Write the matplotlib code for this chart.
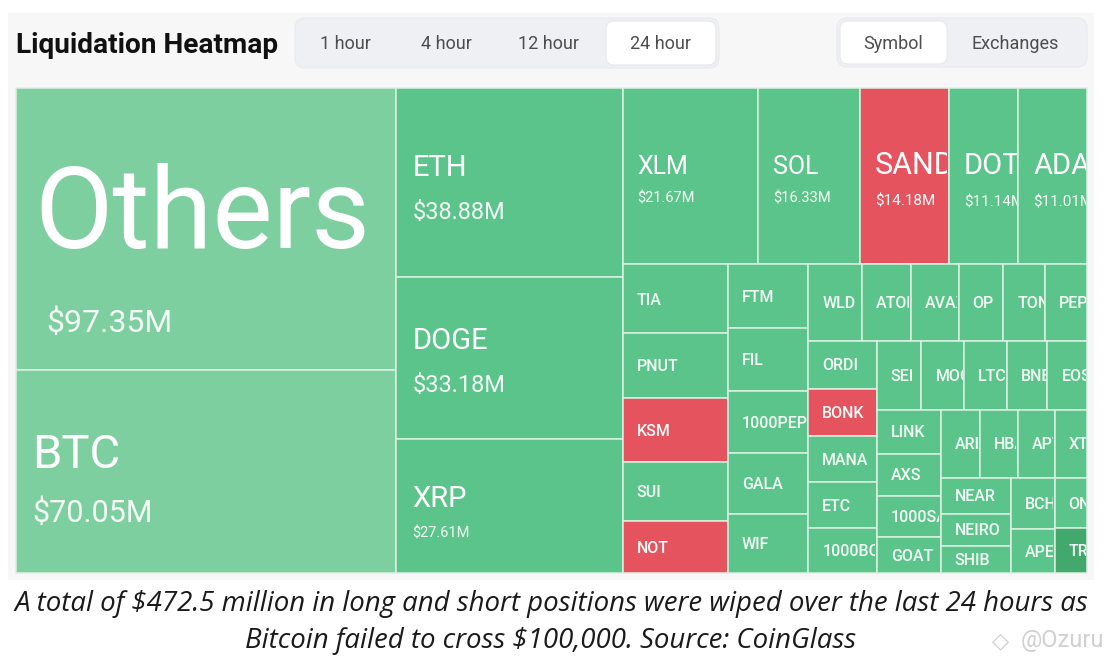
import matplotlib
matplotlib.use("Agg")
import matplotlib.pyplot as plt
from matplotlib.patches import Rectangle, FancyBboxPatch

# ---------------- data ----------------
SYMBOLS = ["Others", "BTC", "ETH", "DOGE", "XRP", "XLM", "SOL", "SAND", "DOT", "ADA",
           "TIA", "PNUT", "KSM", "SUI", "NOT",
           "FTM", "FIL", "1000PEPE", "GALA", "WIF",
           "WLD", "ATOM", "AVAX", "OP", "TON", "PEPE",
           "ORDI", "BONK", "MANA", "ETC", "1000BONK",
           "SEI", "MOG", "LTC", "BNB", "EOS",
           "LINK", "AXS", "1000SATS", "GOAT",
           "ARB", "HBAR", "APT", "XTZ",
           "NEAR", "NEIRO", "SHIB",
           "BCH", "APE", "ONDO", "TRX"]
LIQUIDATIONS_M = [97.35, 70.05, 38.88, 33.18, 27.61, 21.67, 16.33, 14.18, 11.14, 11.01,
                  6.59, 6.21, 6.11, 5.64, 4.97,
                  4.66, 4.58, 4.51, 4.44, 4.29,
                  3.73, 3.39, 3.32, 3.11, 2.90, 2.90,
                  2.97, 2.91, 2.91, 2.85, 2.78,
                  2.78, 2.66, 2.66, 2.54, 2.47,
                  2.56, 2.44, 2.39, 2.10,
                  2.41, 2.35, 2.29, 1.98,
                  2.29, 2.04, 1.72,
                  2.04, 1.76, 1.48, 1.32]
SHORT_HEAVY = ["SAND", "KSM", "NOT", "BONK"]      # red cells
AGGREGATE = ["Others", "BTC"]                      # lighter cells
DEEP = ["TRX"]                                     # darker cell
LABELLED_VALUES = ["Others", "BTC", "ETH", "DOGE", "XRP", "XLM", "SOL", "SAND", "DOT", "ADA"]

TITLE = "Liquidation Heatmap"
PERIODS = ["1 hour", "4 hour", "12 hour", "24 hour"]
PERIOD_SELECTED = "24 hour"
GROUPINGS = ["Symbol", "Exchanges"]
GROUPING_SELECTED = "Symbol"
CAPTION = ["A total of $472.5 million in long and short positions were wiped over the last 24 hours as",
           "Bitcoin failed to cross $100,000. Source: CoinGlass"]
WATERMARK = "@Ozuru"

# hierarchical slicing of the treemap ('h' = side by side, 'v' = stacked)
LAYOUT_TREE = ('h', [
    ('v', ["Others", "BTC"]),
    ('v', ["ETH", "DOGE", "XRP"]),
    ('v', [
        ('h', ["XLM", "SOL", "SAND", "DOT", "ADA"]),
        ('h', [
            ('v', ["TIA", "PNUT", "KSM", "SUI", "NOT"]),
            ('v', ["FTM", "FIL", "1000PEPE", "GALA", "WIF"]),
            ('v', [
                ('h', ["WLD", "ATOM", "AVAX", "OP", "TON", "PEPE"]),
                ('h', [
                    ('v', ["ORDI", "BONK", "MANA", "ETC", "1000BONK"]),
                    ('v', [
                        ('h', ["SEI", "MOG", "LTC", "BNB", "EOS"]),
                        ('h', [
                            ('v', ["LINK", "AXS", "1000SATS", "GOAT"]),
                            ('v', [
                                ('h', ["ARB", "HBAR", "APT", "XTZ"]),
                                ('h', [
                                    ('v', ["NEAR", "NEIRO", "SHIB"]),
                                    ('h', [('v', ["BCH", "APE"]), ('v', ["ONDO", "TRX"])]),
                                ]),
                            ]),
                        ]),
                    ]),
                ]),
            ]),
        ]),
    ]),
])

VALUE = dict(zip(SYMBOLS, LIQUIDATIONS_M))

# ---------------- style ----------------
FONT = ["Roboto", "DejaVu Sans"]
C_GREEN = "#5bc48a"
C_LIGHT = "#7ecf9f"
C_RED = "#e5535f"
C_DEEP = "#43a86b"
C_EDGE = "#dcf1e3"
PANEL = "#f7f7f8"
# name_pt, value_pt, name_dy(px), value_dy(px), name pad(px), value pad(px)
BIG_STYLE = {
    "Others": (82, 23, -21, 92, 18, 30),
    "BTC":    (34, 22, -20, 40, 16, 16),
    "ETH":    (21, 17, -17, 28, 16, 16),
    "DOGE":   (21, 17, -19, 26, 16, 16),
    "XRP":    (21, 10.5, -9, 26, 16, 16),
    "XLM":    (18, 10.5, -11, 21, 15, 15),
    "SOL":    (18, 10.5, -11, 21, 15, 15),
    "SAND":   (22, 11, -13, 24, 15, 15),
    "DOT":    (21, 11, -13, 25, 15, 15),
    "ADA":    (21, 11, -13, 25, 15, 15),
}
SMALL_PT = 11.5
SMALL_PAD = 14

MAP_X, MAP_Y, MAP_W, MAP_H = 16, 88, 1071, 485


def node_value(node):
    if isinstance(node, str):
        return VALUE[node]
    return sum(node_value(c) for c in node[1])


def layout(node, x, y, w, h, out):
    if isinstance(node, str):
        out[node] = (x, y, w, h)
        return
    orient, children = node
    total = node_value(node)
    pos = 0.0
    for c in children:
        frac = node_value(c) / total
        if orient == 'h':
            layout(c, x + pos * w, y, w * frac, h, out)
        else:
            layout(c, x, y + pos * h, w, h * frac, out)
        pos += frac


def px(pt):
    return pt * 100 / 72.0


fig = plt.figure(figsize=(11.16, 6.64), dpi=100)
fig.patch.set_facecolor("white")
ax = fig.add_axes([0, 0, 1, 1])
ax.set_xlim(0, 1116)
ax.set_ylim(664, 0)
ax.axis("off")

# panel
ax.add_patch(Rectangle((8, 13), 1086, 567, facecolor=PANEL, edgecolor="none", zorder=0))

# header
ax.text(16, 43 + px(20.2) * 0.355, TITLE, fontsize=20.2, fontweight="bold", color="#111111",
        family=FONT, ha="left", va="baseline")


def button_group(x0, x1, y0, y1, labels, centers, selected, sel_span):
    ax.add_patch(FancyBboxPatch((x0, y0), x1 - x0, y1 - y0,
                                boxstyle="round,pad=0,rounding_size=10",
                                facecolor="#eef0f3", edgecolor="#e8eaee", lw=0.8, zorder=1))
    sx0, sx1 = sel_span
    ax.add_patch(FancyBboxPatch((sx0, y0 + 3), sx1 - sx0, y1 - y0 - 6,
                                boxstyle="round,pad=0,rounding_size=8",
                                facecolor="white", edgecolor="#e6e8ec", lw=0.8, zorder=2))
    for lab, cx in zip(labels, centers):
        ax.text(cx, (y0 + y1) / 2 + px(13) * 0.355, lab, fontsize=13, color="#4d4d4d",
                family=FONT, ha="center", va="baseline", zorder=3)


button_group(295, 719, 18, 68, PERIODS, [345, 446, 549, 660], PERIOD_SELECTED, (606, 716))
button_group(837, 1087, 18, 67, GROUPINGS, [893, 1015], GROUPING_SELECTED, (840, 947))

# treemap
rects = {}
layout(LAYOUT_TREE, MAP_X, MAP_Y, MAP_W, MAP_H, rects)


def clipped_text(patch, *args, **kw):
    t = ax.text(*args, clip_on=True, **kw)
    t.set_clip_path(patch)
    return t


for sym in SYMBOLS:
    x, y, w, h = rects[sym]
    if sym in SHORT_HEAVY:
        fc = C_RED
    elif sym in AGGREGATE:
        fc = C_LIGHT
    elif sym in DEEP:
        fc = C_DEEP
    else:
        fc = C_GREEN
    patch = Rectangle((x, y), w, h, facecolor=fc, edgecolor=C_EDGE, lw=1.1, zorder=3)
    ax.add_patch(patch)
    clip = Rectangle((x + 1, y), w - 2.5, h, transform=ax.transData)
    cy = y + h / 2
    if sym in BIG_STYLE:
        npt, vpt, ndy, vdy, npad, vpad = BIG_STYLE[sym]
        clipped_text(clip, x + npad, cy + ndy + px(npt) * 0.355, sym, fontsize=npt,
                     color="white", family=FONT, ha="left", va="baseline", zorder=4)
        if sym in LABELLED_VALUES:
            clipped_text(clip, x + vpad, cy + vdy + px(vpt) * 0.355, f"${VALUE[sym]:.2f}M",
                         fontsize=vpt, color="#f4fbf6", family=FONT, ha="left",
                         va="baseline", zorder=4)
    else:
        clipped_text(clip, x + SMALL_PAD, cy + px(SMALL_PT) * 0.355, sym, fontsize=SMALL_PT,
                     color="#f2faf5", family=FONT, fontweight="medium",
                     ha="left", va="baseline", zorder=4)

# caption
CAP_FONT = ["Open Sans", "DejaVu Sans"]
for i, line in enumerate(CAPTION):
    ax.text(551, [601, 638][i] + px(19.9) * 0.36, line, fontsize=19.9, style="italic",
            color="#1a1a1a", family=CAP_FONT, ha="center", va="baseline")

# watermark
ax.text(1000, 641, "\u25C7", fontsize=16, color="#cfcfcf", family=["DejaVu Sans"],
        ha="center", va="center")
ax.text(1062, 641, WATERMARK, fontsize=17, color="#d0d0d0", family=FONT,
        ha="center", va="center")

fig.savefig("out.png", dpi=100, facecolor="white")
